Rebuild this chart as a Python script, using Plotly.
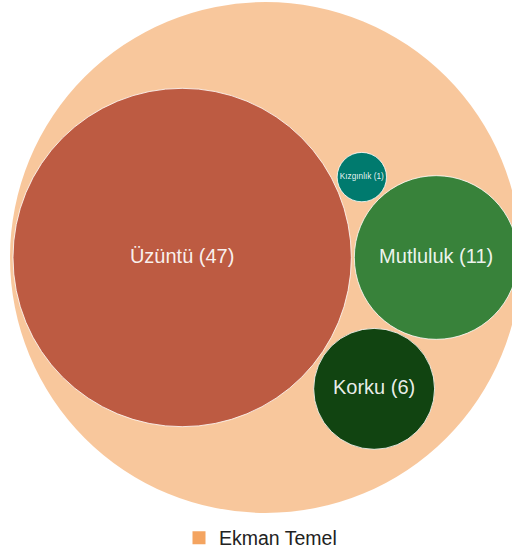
import math
import plotly.graph_objects as go

# ---- data ----
group_name = "Ekman Temel"
categories = ["Üzüntü", "Mutluluk", "Korku", "Kızgınlık"]
values = [47, 11, 6, 1]

# ---- styles ----
group_color = "#F4A460"
leaf_colors = ["#BD5B42", "#38823A", "#114411", "#007A6E"]
K = 24.8      # radius unit per sqrt(value)
PAD = 1.5     # packing padding


def place(b, a, c):
    dx, dy = b["x"] - a["x"], b["y"] - a["y"]
    d2 = dx * dx + dy * dy
    a2 = (a["r"] + c["r"]) ** 2
    b2 = (b["r"] + c["r"]) ** 2
    if a2 > b2:
        x = (d2 + b2 - a2) / (2 * d2)
        y = math.sqrt(max(0, b2 / d2 - x * x))
        c["x"] = b["x"] - x * dx - y * dy
        c["y"] = b["y"] - x * dy + y * dx
    else:
        x = (d2 + a2 - b2) / (2 * d2)
        y = math.sqrt(max(0, a2 / d2 - x * x))
        c["x"] = a["x"] + x * dx - y * dy
        c["y"] = a["y"] + x * dy + y * dx


def basis2(a, b):
    x21, y21, r21 = b["x"] - a["x"], b["y"] - a["y"], b["r"] - a["r"]
    l = math.hypot(x21, y21)
    return dict(x=(a["x"] + b["x"] + x21 / l * r21) / 2,
                y=(a["y"] + b["y"] + y21 / l * r21) / 2,
                r=(l + a["r"] + b["r"]) / 2)


def basis3(a, b, c):
    x1, y1, r1 = a["x"], a["y"], a["r"]
    x2, y2, r2 = b["x"], b["y"], b["r"]
    x3, y3, r3 = c["x"], c["y"], c["r"]
    a2, a3, b2, b3 = x1 - x2, x1 - x3, y1 - y2, y1 - y3
    c2, c3 = r2 - r1, r3 - r1
    d1 = x1 * x1 + y1 * y1 - r1 * r1
    d2 = d1 - x2 * x2 - y2 * y2 + r2 * r2
    d3 = d1 - x3 * x3 - y3 * y3 + r3 * r3
    ab = a3 * b2 - a2 * b3
    if abs(ab) < 1e-9:
        return None
    xa = (b2 * d3 - b3 * d2) / (ab * 2) - x1
    xb = (b3 * c2 - b2 * c3) / ab
    ya = (a3 * d2 - a2 * d3) / (ab * 2) - y1
    yb = (a2 * c3 - a3 * c2) / ab
    A = xb * xb + yb * yb - 1
    B = 2 * (r1 + xa * xb + ya * yb)
    C = xa * xa + ya * ya - r1 * r1
    disc = B * B - 4 * A * C
    if disc < 0:
        return None
    r = -((B + math.sqrt(disc)) / (2 * A) if abs(A) > 1e-6 else C / B)
    return dict(x=x1 + xa + xb * r, y=y1 + ya + yb * r, r=r)


def contains(e, c):
    return math.hypot(e["x"] - c["x"], e["y"] - c["y"]) + c["r"] <= e["r"] + 1e-6


# ---- pack siblings (d3-style front chain, y pointing down) ----
radii = [K * math.sqrt(v) for v in values]
circ = [dict(x=0.0, y=0.0, r=r + PAD) for r in radii]
circ[0]["x"] = -circ[1]["r"]
circ[1]["x"] = circ[0]["r"]
place(circ[1], circ[0], circ[2])
place(circ[0], circ[1], circ[3])

# ---- enclosing circle ----
cands = []
n = len(circ)
for i in range(n):
    cands.append(dict(circ[i]))
    for j in range(i + 1, n):
        cands.append(basis2(circ[i], circ[j]))
        for k in range(j + 1, n):
            e = basis3(circ[i], circ[j], circ[k])
            if e:
                cands.append(e)
enc = min((e for e in cands if all(contains(e, c) for c in circ)), key=lambda e: e["r"])
R = enc["r"] + PAD
cx, cy = enc["x"], enc["y"]

# ---- pixel mapping ----
W, H = 512, 551
R_PX, CX_PX, CY_PX = 255.5, 265.5, 257.5
s = R_PX / R
x_range = [cx - CX_PX / s, cx + (W - CX_PX) / s]
y_range = [cy + (H - CY_PX) / s, cy - CY_PX / s]

shapes = [dict(type="circle", xref="x", yref="y",
               x0=cx - R, x1=cx + R, y0=cy - R, y1=cy + R,
               fillcolor=group_color, opacity=0.62, line=dict(width=0),
               layer="below")]
for c, r, col in zip(circ, radii, leaf_colors):
    shapes.append(dict(type="circle", xref="x", yref="y",
                       x0=c["x"] - r, x1=c["x"] + r, y0=c["y"] - r, y1=c["y"] + r,
                       fillcolor=col, line=dict(color="rgba(255,255,255,0.8)", width=1),
                       layer="below"))

labels = [f"{cat} ({v})" for cat, v in zip(categories, values)]
sizes = [min(20, 0.335 * r * s) for r in radii]

fig = go.Figure()
fig.add_trace(go.Scatter(
    x=[c["x"] for c in circ], y=[c["y"] for c in circ],
    mode="text", text=labels,
    textfont=dict(size=sizes, color="rgba(255,255,255,0.92)",
                  family="Liberation Sans, Arial, sans-serif"),
    hoverinfo="text", showlegend=False))
fig.add_trace(go.Scatter(
    x=[None], y=[None], mode="markers", name=group_name,
    marker=dict(symbol="square", size=13, color=group_color),
    showlegend=True))

fig.update_layout(
    width=W, height=H,
    margin=dict(l=0, r=0, t=0, b=0, autoexpand=False),
    paper_bgcolor="white", plot_bgcolor="white",
    shapes=shapes,
    xaxis=dict(range=x_range, visible=False, fixedrange=True),
    yaxis=dict(range=y_range, visible=False, fixedrange=True),
    showlegend=True,
    legend=dict(orientation="h", x=(199 - 20) / W, xanchor="left",
                y=(H - 538) / H, yanchor="middle",
                font=dict(size=19.5, color="#222", family="Liberation Sans, Arial, sans-serif"),
                bgcolor="rgba(0,0,0,0)"),
)
fig.write_html("out.html", config={"displayModeBar": False},
               post_script="document.body.style.margin='0';document.body.style.overflow='hidden';")
